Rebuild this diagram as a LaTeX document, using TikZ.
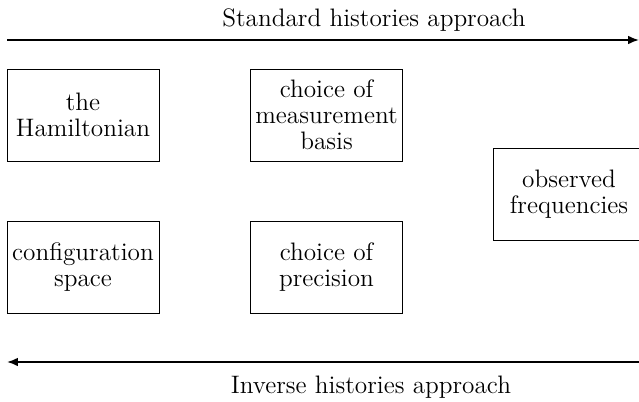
\documentclass[tikz,border=0pt]{standalone}
\usetikzlibrary{arrows.meta}
\tikzset{
  box/.style={draw, minimum width=2.432cm, minimum height=1.472cm,
    align=center, inner sep=1pt},
  flow/.style={thick, -{Latex[length=5pt,width=4pt]}}
}
\begin{document}
\begin{tikzpicture}[font=\fontsize{11.5}{11.8}\selectfont]
    \useasboundingbox (0,0) rectangle (10.224,6.416);
    % the two directions of reasoning
    \node (std) at (5.984,6.09) {Standard histories approach};
    \coordinate (stdL) at (0.112,5.776);
    \coordinate (stdR) at (10.224,5.776);
    \draw[flow] (stdL) -- (stdR);
    \node (inv) at (5.936,0.22) {Inverse histories approach};
    \coordinate (invL) at (0.112,0.624);
    \coordinate (invR) at (10.224,0.624);
    \draw[flow] (invR) -- (invL);
    % inputs and outputs
    \node[box] (ham) at (1.328,4.576) {the\\Hamiltonian};
    \node[box] (basis) at (5.224,4.576) {choice of\\measurement\\basis};
    \node[box] (conf) at (1.328,2.144) {configuration\\space};
    \node[box] (prec) at (5.224,2.144) {choice of\\precision};
    \node[box] (freq) at (9.104,3.312) {observed\\frequencies};
\end{tikzpicture}
\end{document}
